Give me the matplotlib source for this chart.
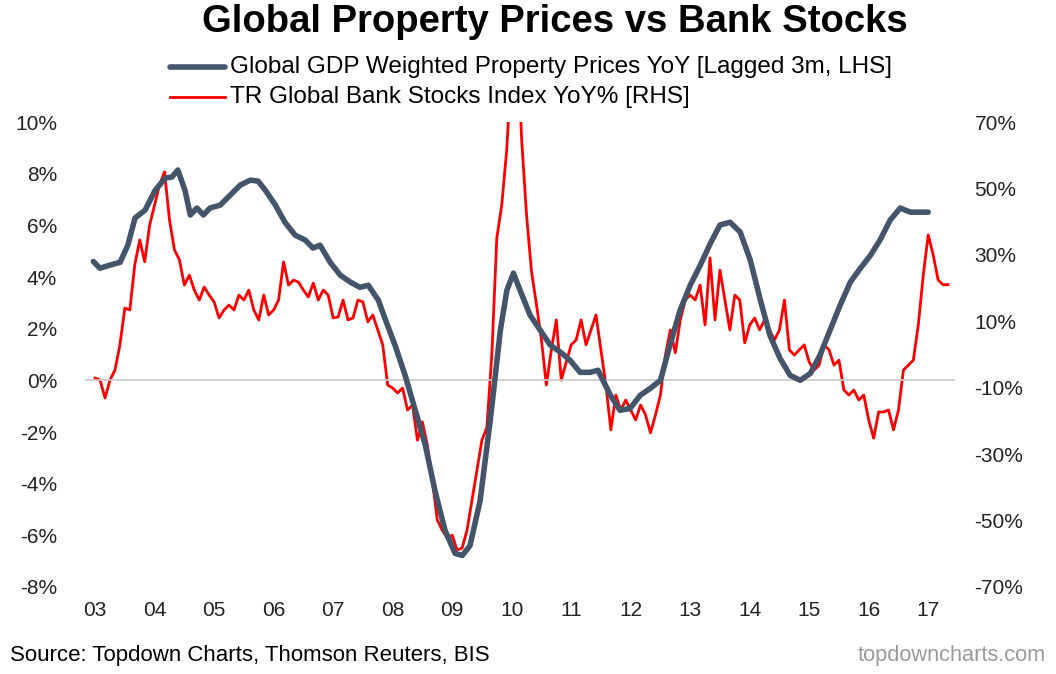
import matplotlib.pyplot as plt
import numpy as np

plt.rcParams['font.family'] = ['Liberation Sans', 'DejaVu Sans']

# Property prices YoY (%), decimal year, LHS
prop_years = [2002.97, 2003.08, 2003.25, 2003.42, 2003.55, 2003.67, 2003.84, 2004.01, 2004.18, 2004.29,
              2004.39, 2004.51, 2004.60, 2004.71, 2004.82, 2004.93, 2005.10, 2005.27, 2005.44, 2005.61,
              2005.74, 2005.86, 2006.03, 2006.19, 2006.36, 2006.53, 2006.66, 2006.78, 2006.95, 2007.12,
              2007.29, 2007.45, 2007.59, 2007.76, 2007.87, 2008.04, 2008.21, 2008.38, 2008.55, 2008.71,
              2008.88, 2009.05, 2009.17, 2009.30, 2009.47, 2009.64, 2009.81, 2009.92, 2010.03, 2010.14,
              2010.31, 2010.48, 2010.65, 2010.82, 2010.98, 2011.15, 2011.32, 2011.45, 2011.66, 2011.82,
              2011.99, 2012.16, 2012.33, 2012.50, 2012.66, 2012.83, 2013.00, 2013.17, 2013.34, 2013.50,
              2013.67, 2013.84, 2014.01, 2014.18, 2014.34, 2014.51, 2014.68, 2014.85, 2015.02, 2015.18,
              2015.35, 2015.52, 2015.69, 2015.86, 2016.03, 2016.19, 2016.36, 2016.53, 2016.70, 2016.87,
              2017.00]
prop_vals = [4.6, 4.34, 4.46, 4.57, 5.23, 6.28, 6.59, 7.36, 7.83, 7.87,
             8.14, 7.36, 6.40, 6.67, 6.40, 6.67, 6.78, 7.17, 7.56, 7.75,
             7.71, 7.36, 6.78, 6.12, 5.62, 5.43, 5.12, 5.23, 4.57, 4.07,
             3.80, 3.60, 3.68, 3.10, 2.40, 1.36, 0.19, -1.16, -2.52, -4.26,
             -5.81, -6.70, -6.78, -6.40, -4.65, -1.55, 1.94, 3.49, 4.15, 3.49,
             2.52, 1.94, 1.36, 1.09, 0.78, 0.31, 0.31, 0.39, -0.58, -1.16,
             -1.09, -0.58, -0.31, 0.0, 1.36, 2.71, 3.68, 4.46, 5.31, 6.01,
             6.12, 5.74, 4.65, 3.10, 1.74, 0.85, 0.19, 0.0, 0.27, 0.97,
             1.94, 2.91, 3.80, 4.34, 4.84, 5.43, 6.20, 6.67, 6.51, 6.51,
             6.51]

# Bank stocks YoY (%), monthly from Jan 2003, RHS
bank_vals = [
    -7.1, -7.7, -13.1, -7.7, -4.7, 2.9, 14.0, 13.4, 27.0, 34.5, 27.9, 39.0,
    45.0, 51.1, 55.0, 40.5, 31.5, 28.5, 20.9, 23.9, 19.4, 16.4, 20.3, 17.9,
    15.8, 11.0, 13.4, 14.9, 13.4, 17.9, 16.4, 19.4, 13.4, 10.4, 17.9, 11.9,
    13.4, 16.4, 27.9, 20.9, 22.4, 21.8, 19.4, 17.3, 21.5, 16.4, 19.4, 17.9,
    11.0, 11.3, 16.4, 10.4, 11.0, 16.4, 15.8, 9.8, 11.9, 7.4, 2.9, -9.2,
    -10.1, -11.6, -10.1, -16.7, -15.2, -25.8, -20.3, -27.3, -37.8, -49.8, -52.9, -55.3,
    -54.4, -58.9, -58.3, -52.9, -43.8, -34.8, -25.8, -22.0, 0.0, 35.0, 45.0, 61.6,
    88.0, 100.8, 65.0, 42.0, 25.0, 15.0, 4.4, -9.2, 1.4, 10.4, -7.7, -2.3,
    2.9, 4.4, 10.4, 2.9, 7.4, 11.9, 1.4, -9.2, -22.7, -12.2, -16.7, -13.7,
    -16.7, -19.7, -15.2, -18.2, -23.6, -18.2, -12.2, -0.2, 7.4, 0.5, 10.4, 16.4,
    17.9, 16.4, 20.9, 8.9, 29.1, 10.4, 25.4, 16.4, 7.4, 17.9, 16.4, 3.5,
    8.9, 11.0, 7.4, 10.4, 7.4, 4.4, 7.4, 16.4, 1.4, -0.2, 1.4, 2.9,
    -2.3, -4.7, -3.2, 2.9, 1.4, -3.2, -1.7, -10.7, -12.2, -10.7, -13.7, -12.2,
    -19.7, -25.2, -17.3, -17.3, -16.7, -22.7, -16.7, -4.7, -3.2, -1.7, 8.9, 23.9,
    36.0, 30.0, 22.4, 21.0, 21.0]
bank_years = 2003 + np.arange(len(bank_vals)) / 12

year_ticks = list(range(2003, 2018))
year_labels = ['%02d' % (y % 100) for y in year_ticks]

fig = plt.figure(figsize=(10.56, 6.74), dpi=100)
ax = fig.add_axes([85 / 1056, 1 - 587 / 674, 870 / 1056, 465 / 674])
ax2 = ax.twinx()

ax.axhline(0, color='#c8c8c8', lw=1.2, zorder=1)
ax.plot(prop_years, prop_vals, color='#44546A', lw=4, zorder=3, solid_capstyle='round')
ax2.plot(bank_years, bank_vals, color='#FF0000', lw=2, zorder=2)
ax.set_zorder(ax2.get_zorder() + 1)
ax.patch.set_visible(False)

ax.set_xlim(2002.83, 2017.45)
ax.set_ylim(-8, 10)
ax2.set_ylim(-70, 70)
ax.set_yticks(range(-8, 11, 2))
ax.set_yticklabels(['%d%%' % v for v in range(-8, 11, 2)])
ax2.set_yticks(range(-70, 71, 20))
ax2.set_yticklabels(['%d%%' % v for v in range(-70, 71, 20)])
ax.set_xticks(year_ticks)
ax.set_xticklabels(year_labels)

for a in (ax, ax2):
    for s in a.spines.values():
        s.set_visible(False)
    a.tick_params(length=0, labelsize=15, colors='#222222')
ax.tick_params(axis='y', pad=20)
ax2.tick_params(axis='y', pad=14)
ax.tick_params(axis='x', pad=10)

fig.text(0.525, 0.968, 'Global Property Prices vs Bank Stocks', ha='center', va='center',
         fontsize=27.5, fontweight='bold')
fig.lines.append(plt.Line2D([170 / 1056, 225 / 1056], [1 - 67 / 674] * 2, color='#44546A', lw=4,
                            transform=fig.transFigure, solid_capstyle='round'))
fig.lines.append(plt.Line2D([170 / 1056, 225 / 1056], [1 - 97 / 674] * 2, color='#FF0000', lw=2,
                            transform=fig.transFigure))
fig.text(230 / 1056, 1 - 67 / 674, 'Global GDP Weighted Property Prices YoY [Lagged 3m, LHS]',
         va='center', fontsize=17.5)
fig.text(230 / 1056, 1 - 97 / 674, 'TR Global Bank Stocks Index YoY% [RHS]', va='center', fontsize=17.5)
fig.text(10 / 1056, 1 - 655 / 674, 'Source: Topdown Charts, Thomson Reuters, BIS', va='center', fontsize=16)
fig.text(1046 / 1056, 1 - 655 / 674, 'topdowncharts.com', va='center', ha='right', fontsize=15.7,
         color='#9a9a9a')

fig.savefig('out.png', dpi=100)
